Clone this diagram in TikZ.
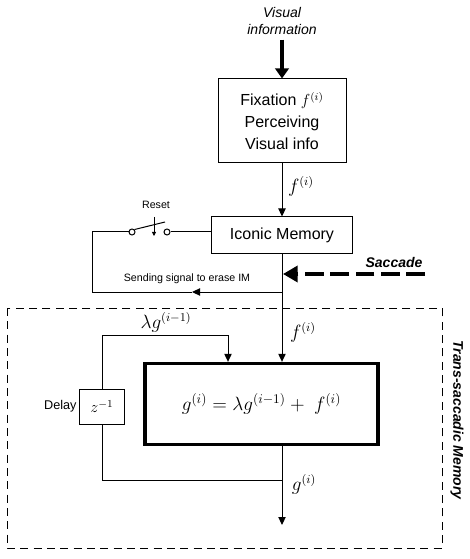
\documentclass[tikz,border=0pt]{standalone}
\usepackage{fontspec}
\setmainfont{Liberation Sans}
\usetikzlibrary{arrows.meta}

\tikzset{every picture/.style={line width=0.75pt}}
\tikzset{
  blk/.style={draw, inner sep=2pt, font=\fontsize{12}{16.5}\selectfont},
  arr/.style={-{Triangle[length=6pt,width=5.5pt]}},
  lbl/.style={font=\fontsize{13.5}{15}\selectfont},
  tiny/.style={font=\fontsize{8}{10}\selectfont},
  pin/.style={circle, draw, fill=white, inner sep=0pt, minimum size=4.5pt},
}

\begin{document}
\begin{tikzpicture}[x=0.75pt,y=0.75pt,yscale=-1,xscale=1]
	\useasboundingbox (0,0) rectangle (469,559);

	% Text Node
	\node[align=center, font=\fontsize{10.5}{12.75}\selectfont\itshape] (vis) at (282,21) {Visual\\information};
	%Shape: Rectangle
	\node[blk, align=center, minimum width=96pt, minimum height=63pt] (fix) at (282,121) {Fixation $f^{(i)}$\\Perceiving\\Visual info};
	%Shape: Rectangle
	\node[blk, minimum width=105.75pt, minimum height=27pt] (icon) at (282,235) {Iconic Memory};
	%Shape: Rectangle
	\node[draw, line width=2.5pt, minimum width=174.75pt, minimum height=60.75pt, font=\fontsize{14.5}{16}\selectfont] (main) at (261.5,404) {$g^{(i)} = \lambda g^{(i-1)} +\; f^{(i)}$};
	%Shape: Rectangle
	\node[blk, minimum width=33.75pt, minimum height=26.25pt] (dly) at (102,406.5) {$z^{-1}$};
	\node[left, font=\fontsize{9.5}{11}\selectfont, inner sep=1.5pt] (dlyl) at (dly.west) {Delay};

	%Dashed region
	\draw[dashed, dash pattern=on 6pt off 4pt] (7,308) rectangle (442,548);
	\node[rotate=-90, font=\fontsize{10.5}{12}\selectfont\bfseries\itshape] (tsm) at (457,420) {Trans-saccadic Memory};

	%Straight Lines: input
	\draw[line width=2.6pt, -{Triangle[length=7.5pt,width=10pt]}] (vis.south) -- (vis.south |- fix.north);
	\draw[arr] (fix.south) -- (icon.north);
	\node[lbl] (f1) at (301,186) {$f^{(i)}$};

	%Switch
	\coordinate (swl) at (92,232);
	\node[pin] (c1) at (132,232) {};
	\node[pin] (c2) at (167,232) {};
	\coordinate (blade) at (165,222);
	\draw (c1.north east) -- (blade);
	\draw (c2.east) -- (c2.east -| icon.west);
	\coordinate (rsa) at (154,217);
	\coordinate (rsb) at (154,236);
	\draw[-{Triangle[length=3pt,width=3pt]}, line width=0.6pt] (rsa) -- (rsb);
	\node[tiny] (rst) at (156,205) {Reset};

	%Erase signal
	\coordinate (sig) at (282,292);
	\coordinate (sigm) at (192,292);
	\coordinate (sigl) at (92,292);
	\draw[arr] (sig) -- (sigm);
	\draw (sigm) -- (sigl) -- (swl) -- (c1.west);
	\node[tiny] (sigt) at (187,279) {Sending signal to erase IM};

	%Saccade
	\coordinate (sacs) at (425,274);
	\coordinate (sace) at (283,274);
	\draw[line width=2.6pt, dash pattern=on 14pt off 5pt, -{Triangle[length=11pt,width=12pt]}] (sacs) -- (sace);
	\node[font=\fontsize{10.5}{12}\selectfont\bfseries\itshape] (sact) at (394,262) {Saccade};

	%Into memory
	\draw[arr] (icon.south) -- (icon.south |- main.north);
	\node[lbl] (f2) at (303,332) {$f^{(i)}$};

	%Output and feedback
	\coordinate (fb) at (282,480);
	\coordinate (out) at (282,525);
	\draw[arr] (main.south -| out) -- (out);
	\draw (fb) -- (fb -| dly.south) -- (dly.south);
	\coordinate (ltop) at (228,335);
	\draw[arr] (dly.north) |- (ltop) -- (ltop |- main.north);
	\node[lbl] (lg) at (166,322) {$\lambda g^{(i-1)}$};
	\node[lbl] (g1) at (304,484) {$g^{(i)}$};

\end{tikzpicture}
\end{document}
